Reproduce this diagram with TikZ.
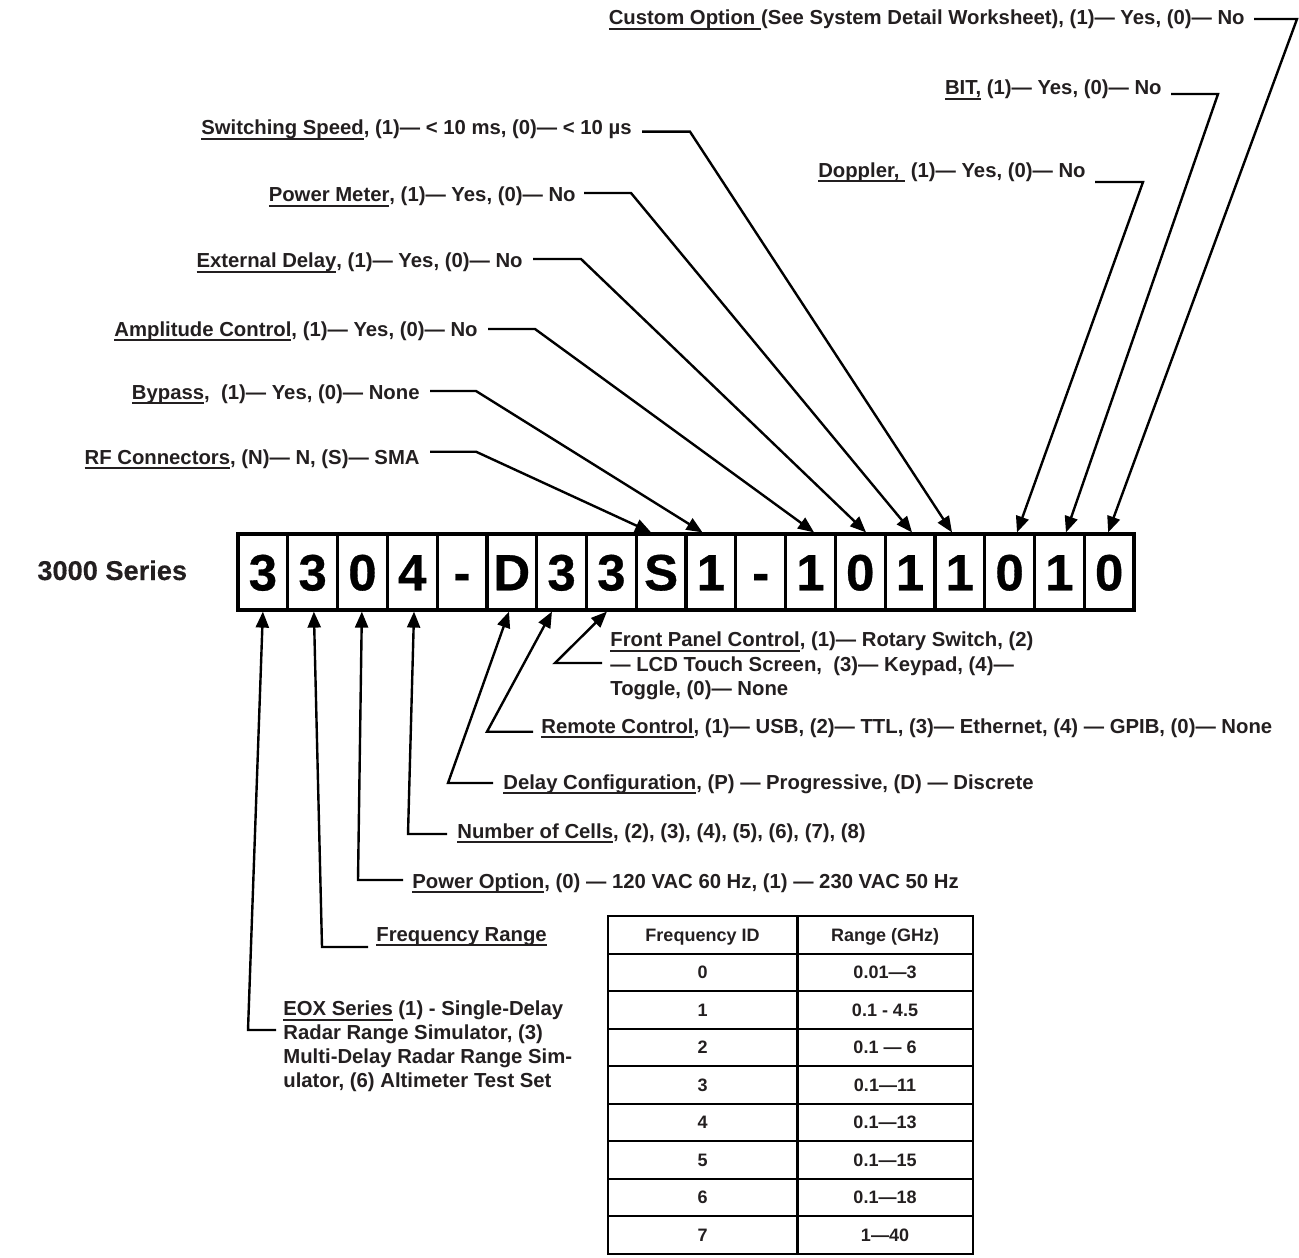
\documentclass[tikz,border=0pt]{standalone}
\usepackage{fontspec}
\setmainfont{Liberation Sans}
\newfontface\heavy{Liberation Sans Bold}[FakeBold=0.6]
\newfontface\semiheavy{Liberation Sans Bold}[FakeBold=0.3]
\usetikzlibrary{arrows.meta}
\definecolor{ink}{RGB}{35,31,32}
\newcommand{\myul}[1]{\setbox0\hbox{#1}\rlap{\vrule width\wd0 height -0.16em depth 0.265em}\box0\relax}
\begin{document}
\begin{tikzpicture}[x=0.5pt,y=-0.5pt,
  lbl/.style={font=\bfseries\fontsize{10.15}{12.25}\selectfont, text=ink, inner sep=0pt},
  conn/.style={line width=1.2pt, line join=miter, -{Triangle[length=8pt,width=6.5pt]}},
  cell/.style={draw, line width=1.6pt, minimum width=24.89pt, minimum height=38pt, inner sep=0pt,
    text height=18.3pt, text depth=0pt, font=\heavy\fontsize{25.5}{26}\selectfont},
  tcell/.style={draw, line width=1pt, inner sep=0pt, minimum height=18.75pt,
    text height=6.5pt, text depth=0pt, font=\bfseries\fontsize{9}{10}\selectfont, text=ink}]
\useasboundingbox (0,0) rectangle (1299,1257);

% series title
\node[lbl, font=\semiheavy\fontsize{13.6}{15}\selectfont, anchor=base west] (title) at (37,580) {3000 Series};

% code cells
\foreach \t [count=\i] in {3,3,0,4,-,D,3,3,S,1,-,1,0,1,1,0,1,0}
  \node[cell] (c\i) at ({238+49.78*(\i-0.5)},572) {\t};

% top labels
\node[lbl, anchor=base east] (lCustom) at (1245,25) {\myul{Custom Option\ }(See System Detail Worksheet), (1)— Yes, (0)— No};
\node[lbl, anchor=base east] (lBIT) at (1162,95) {\myul{BIT,} (1)— Yes, (0)— No};
\node[lbl, anchor=base east] (lDop) at (1086,177) {\myul{Doppler,\ }\ (1)— Yes, (0)— No};
\node[lbl, anchor=base east] (lSw) at (632,135) {\myul{Switching Speed}, (1)— < 10 ms, (0)— < 10 µs};
\node[lbl, anchor=base east] (lPM) at (576,201.7) {\myul{Power Meter}, (1)— Yes, (0)— No};
\node[lbl, anchor=base east] (lExt) at (523,267.7) {\myul{External Delay}, (1)— Yes, (0)— No};
\node[lbl, anchor=base east] (lAmp) at (478,336) {\myul{Amplitude Control}, (1)— Yes, (0)— No};
\node[lbl, anchor=base east] (lByp) at (420,399) {\myul{Bypass},\ \ (1)— Yes, (0)— None};
\node[lbl, anchor=base east] (lRF) at (420,464) {\myul{RF Connectors}, (N)— N, (S)— SMA};

\coordinate (kCustom) at (1297,19);
\coordinate (kBIT) at (1218,94);
\coordinate (kDop) at (1143,182);
\coordinate (kSw) at (690,131.7);
\coordinate (kPM) at (631,193);
\coordinate (kExt) at (581,259);
\coordinate (kAmp) at (535,329);
\coordinate (kByp) at (476,391);
\coordinate (kRF) at (476,451.7);

\draw[conn] (lCustom.east |- kCustom) ++(4.5pt,0) -- (kCustom) -- ([xshift=-0.5pt]c18.north);
\draw[conn] (lBIT.east |- kBIT) ++(4.5pt,0) -- (kBIT) -- ([xshift=3.3pt]c17.north);
\draw[conn] (lDop.east |- kDop) ++(4.5pt,0) -- (kDop) -- ([xshift=3.7pt]c16.north);
\draw[conn] (lSw.east |- kSw) ++(5pt,0) -- (kSw) -- ([xshift=-3.9pt]c15.north);
\draw[conn] (lPM.east |- kPM) ++(4pt,0) -- (kPM) -- ([xshift=1pt]c14.north);
\draw[conn] (lExt.east |- kExt) ++(5pt,0) -- (kExt) -- ([xshift=2.9pt]c13.north);
\draw[conn] (lAmp.east |- kAmp) ++(5pt,0) -- (kAmp) -- ([xshift=1.8pt]c12.north);
\draw[conn] (lByp.east |- kByp) ++(5pt,0) -- (kByp) -- ([xshift=-4.2pt]c10.north);
\draw[conn] (lRF.east |- kRF) ++(5pt,0) -- (kRF) -- ([xshift=-5pt]c9.north);

% bottom labels
\node[lbl, anchor=north west, align=left] (lFront) at (610,631.5) {\myul{Front Panel Control}, (1)— Rotary Switch, (2)\\— LCD Touch Screen,\ \ (3)— Keypad, (4)—\\Toggle, (0)— None};
\node[lbl, anchor=base west] (lRem) at (541,733) {\myul{Remote Control}, (1)— USB, (2)— TTL, (3)— Ethernet, (4) — GPIB, (0)— None};
\node[lbl, anchor=base west] (lDel) at (503,789) {\myul{Delay Configuration}, (P) — Progressive, (D) — Discrete};
\node[lbl, anchor=base west] (lCells) at (457,838) {\myul{Number of Cells}, (2), (3), (4), (5), (6), (7), (8)};
\node[lbl, anchor=base west] (lPO) at (412,888) {\myul{Power Option}, (0) — 120 VAC 60 Hz, (1) — 230 VAC 50 Hz};
\node[lbl, anchor=base west] (lFreq) at (376,941) {\myul{Frequency Range}};
\node[lbl, anchor=north west, align=left, font=\bfseries\fontsize{10.15}{12}\selectfont] (lEOX) at (283,1000.5) {\myul{EOX Series} (1) - Single-Delay\\Radar Range Simulator, (3)\\Multi-Delay Radar Range Sim-\\ulator, (6) Altimeter Test Set};

\coordinate (kFront) at (555,663);
\coordinate (kRem) at (487,731.7);
\coordinate (kDel) at (448,783);
\coordinate (kCells) at (408,834);
\coordinate (kPO) at (358,880);
\coordinate (kFreq) at (322,947);
\coordinate (kEOX) at (248,1030);

\draw[conn] (lFront.west |- kFront) ++(-4pt,0) -- (kFront) -- ([xshift=-2.2pt]c8.south);
\draw[conn] (lRem.west |- kRem) ++(-4pt,0) -- (kRem) -- ([xshift=-4.8pt]c7.south);
\draw[conn] (lDel.west |- kDel) ++(-5pt,0) -- (kDel) -- ([xshift=-1.4pt]c6.south);
\draw[conn] (lCells.west |- kCells) ++(-5pt,0) -- (kCells) -- ([xshift=0.9pt]c4.south);
\draw[conn] (lPO.west |- kPO) ++(-4.5pt,0) -- (kPO) -- ([xshift=-0.3pt]c3.south);
\draw[conn] (lFreq.west |- kFreq) ++(-4pt,0) -- (kFreq) -- ([xshift=0.6pt]c2.south);
\draw[conn] (lEOX.west |- kEOX) ++(-3.5pt,0) -- (kEOX) -- (c1.south);

% frequency table
\foreach \a/\b [count=\r from 0] in {Frequency ID/Range (GHz), 0/0.01—3, 1/0.1 - 4.5, 2/0.1 — 6, 3/0.1—11, 4/0.1—13, 5/0.1—15, 6/0.1—18, 7/1—40} {
  \node[tcell, minimum width=94.5pt] (ta\r) at (702.5,{916+37.5*(\r+0.5)}) {\a};
  \node[tcell, minimum width=87.5pt] (tb\r) at (885,{916+37.5*(\r+0.5)}) {\b};
}
\end{tikzpicture}
\end{document}
